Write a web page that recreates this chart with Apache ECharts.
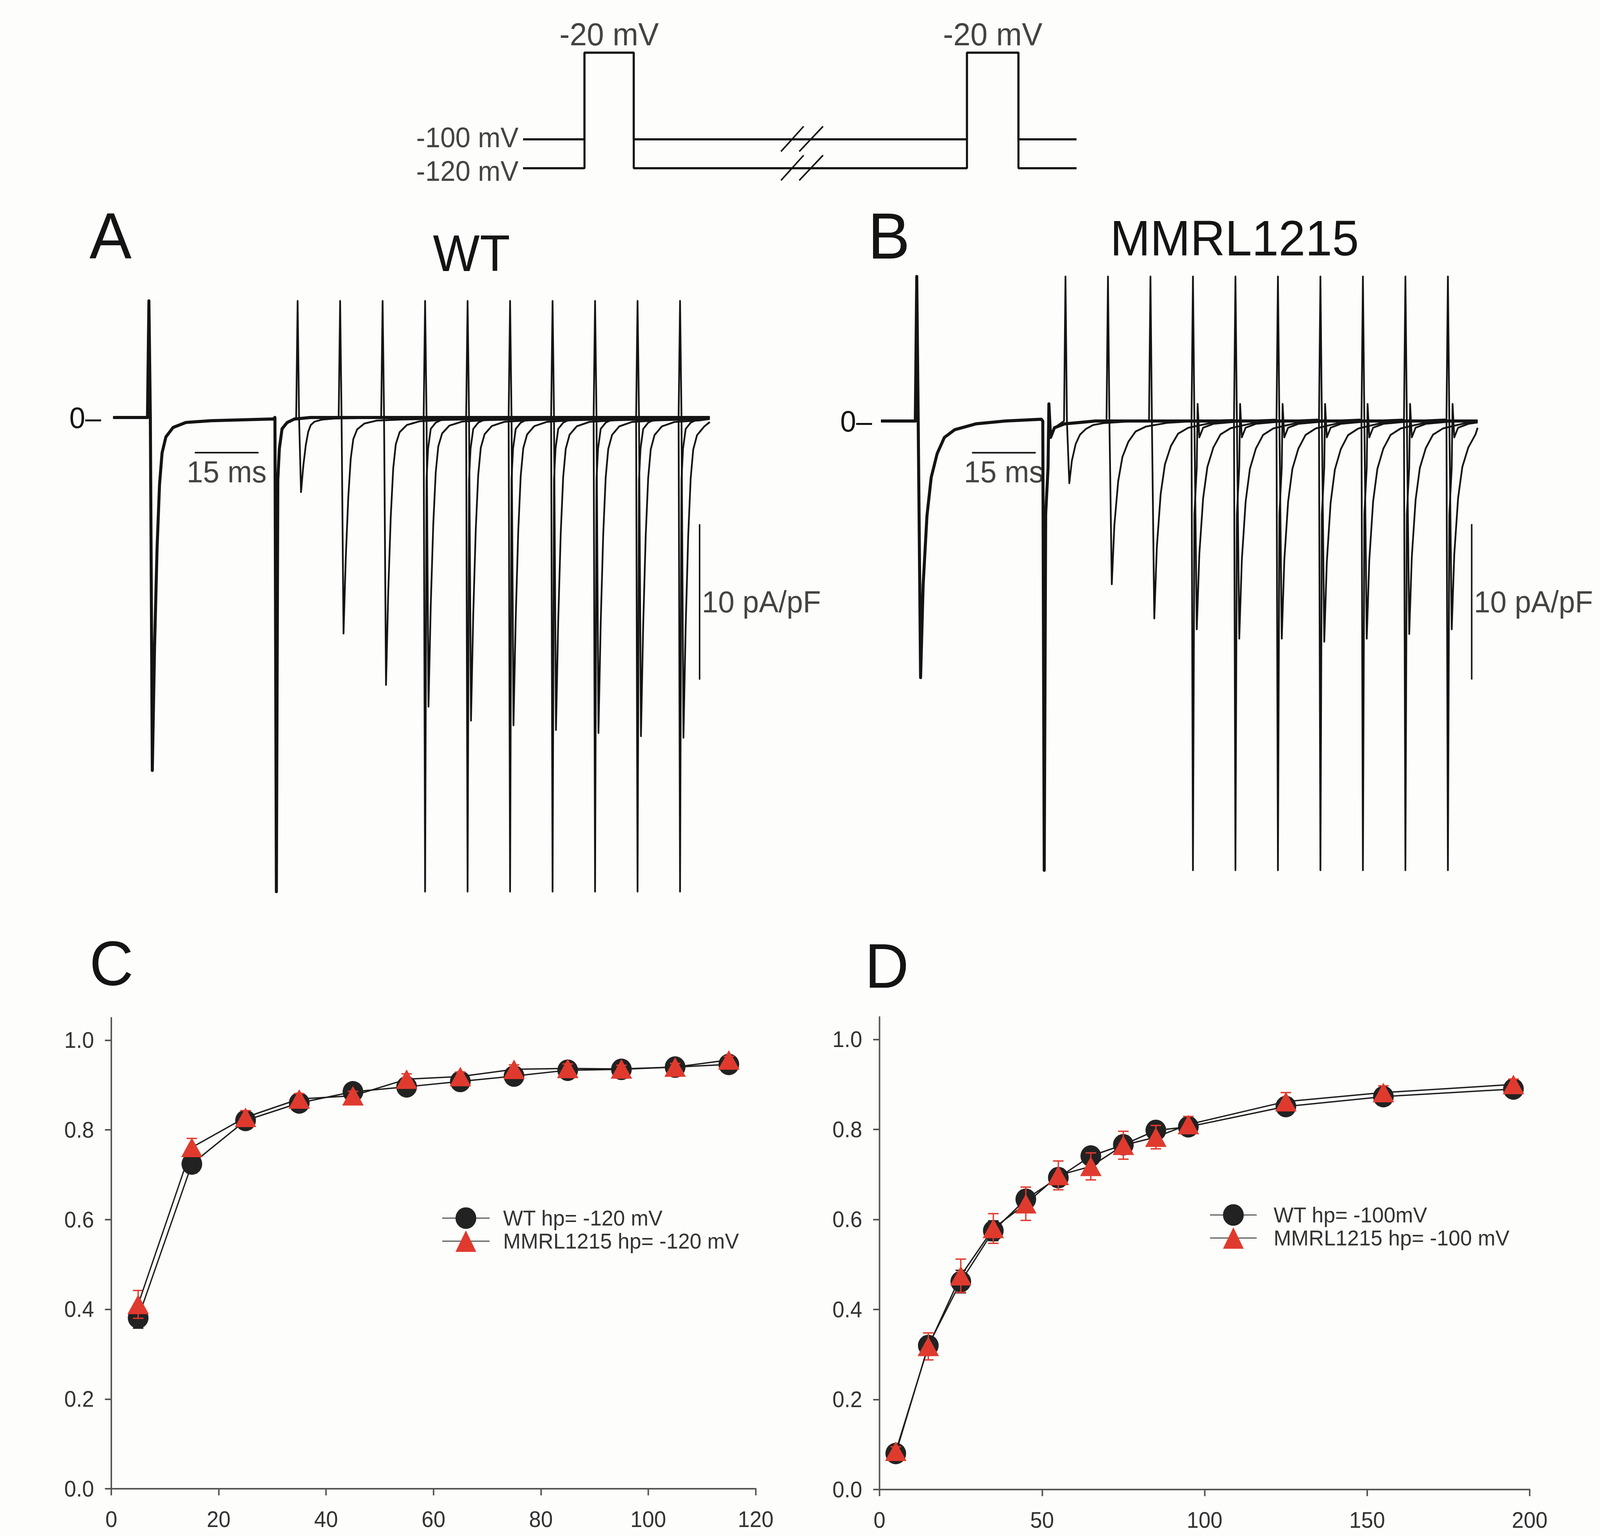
<!DOCTYPE html>
<html><head><meta charset="utf-8">
<script src="https://cdn.jsdelivr.net/npm/echarts@6/dist/echarts.min.js"></script>
<style>html,body{margin:0;padding:0;background:#fdfdfb;overflow:hidden;}#chart{width:4255px;height:3933px;transform-origin:0 0;}</style>
</head><body><div id="chart"></div>
<script>
// ================= DATA =================
// --- voltage protocol (schematic, not to scale) ---
const protocolHolding = [-100, -120];          // mV holding potentials
const protocolTestMV = -20;                    // mV step
const protocolPulseStart = [11.1, 80.2];       // schematic time units
const protocolPulseEnd = [20.0, 89.5];
const protocolEnd = 100;
const protocolBreakAt = 50;
const protocolRow = {'-120': 0, '-100': 1, '-20': 4};   // schematic drawing rows

// --- current traces (ms, pA/pF) ---
const recoveryIntervals = [5, 15, 25, 35, 45, 55, 65, 75, 85, 95];   // ms
const condDuration = 30;
const testDuration = 30;
const traceStart = -8.4;
const traceEnd = 132;
const condPeakWT = -22.7;
const condPeakMM = -16.5;
const testPeakWT = [-4.8, -13.9, -17.2, -18.6, -19.5, -19.8, -20.1, -20.3, -20.5, -20.6];
const testPeakMM = [-4.0, -10.5, -12.7, -13.4, -14.0, -14.0, -14.2, -14.0, -13.7, -13.4];
const capOnWT = 7.5,  capOffWT = -30.5;   // clipped capacitive transients
const capOnMM = 9.3,  capOffMM = -28.9;
// sodium current waveform: [ms after step, fraction of peak]
const naShapeWT = [[0.8,1],[1.33,0.65],[1.92,0.37],[2.5,0.19],[3.1,0.10],[4.0,0.055],[5.7,0.028],[8.7,0.014],[14.6,0.009],[29.3,0.004]];
const naShapeMM = [[0.9,1],[1.5,0.64],[2.4,0.37],[3.4,0.22],[4.8,0.127],[6.5,0.064],[8.9,0.034],[13.9,0.011],[20.8,0.0],[29.3,-0.007]];
// tail after stepping back to holding: [ms after step, pA/pF]
const tailWT = [[0.7,-2.0],[1.33,-0.73],[2.5,-0.33],[4.2,-0.1],[8,0]];
const tailMM = [[0.9,-3.0],[1.1,1.1],[1.5,-1.05],[2.4,-0.43],[4.8,-0.18],[8.1,-0.1],[12,0]];
const scaleTime = 15;      // ms
const scaleCurrent = 10;   // pA/pF

// --- panel C (hp = -120 mV) ---
const cTimes = [5, 15, 25, 35, 45, 55, 65, 75, 85, 95, 105, 115];
const cWT    = [0.381, 0.724, 0.821, 0.860, 0.885, 0.896, 0.908, 0.920, 0.933, 0.935, 0.940, 0.946];
const cWTerr = [0.023, 0.020, 0.012, 0.010, 0.010, 0.010, 0.010, 0.010, 0.008, 0.008, 0.008, 0.008];
const cMM    = [0.411, 0.761, 0.828, 0.869, 0.876, 0.913, 0.919, 0.935, 0.937, 0.936, 0.940, 0.956];
const cMMerr = [0.031, 0.020, 0.015, 0.012, 0.010, 0.012, 0.010, 0.010, 0.010, 0.008, 0.008, 0.008];

// --- panel D (hp = -100 mV) ---
const dTimes = [5, 15, 25, 35, 45, 55, 65, 75, 85, 95, 125, 155, 195];
const dWT    = [0.080, 0.320, 0.462, 0.575, 0.645, 0.693, 0.741, 0.766, 0.798, 0.806, 0.851, 0.873, 0.890];
const dWTerr = [0.010, 0.020, 0.025, 0.022, 0.020, 0.020, 0.018, 0.020, 0.015, 0.015, 0.015, 0.012, 0.012];
const dMM    = [0.085, 0.318, 0.475, 0.580, 0.635, 0.698, 0.718, 0.765, 0.783, 0.811, 0.862, 0.882, 0.900];
const dMMerr = [0.010, 0.030, 0.037, 0.033, 0.037, 0.032, 0.030, 0.031, 0.026, 0.018, 0.020, 0.015, 0.012];

const yTicks = [0, 0.2, 0.4, 0.6, 0.8, 1.0];

// ================= BUILD =================
const FONT = "'Liberation Sans', Arial, Helvetica, sans-serif";
const INK = '#141414';
const RED = '#e03a2e';
const SPIKE = 0.34;   // half-width of a drawn capacitive spike (ms)

function onStep(t0, up, peak, shape) {
  const pts = [[t0 - SPIKE, 0], [t0, up], [t0 + SPIKE, 0]];
  shape.forEach(([dt, f]) => pts.push([t0 + dt, peak * f]));
  return pts;
}
function offStep(t1, down, tail) {
  const pts = [[t1 - SPIKE, 0], [t1, down], [t1 + SPIKE, tail[0][1] * 2]];
  tail.forEach(([dt, v]) => pts.push([t1 + dt, v]));
  return pts;
}
function join(segs) {
  const out = [];
  segs.forEach((s, i) => {
    const next = i + 1 < segs.length ? segs[i + 1][0][0] : traceEnd;
    s.forEach(p => { if (p[0] < next && p[0] <= traceEnd) out.push(p); });
  });
  const last = out[out.length - 1];
  if (last[0] < traceEnd) out.push([traceEnd, last[1] * 0.5]);
  return out;
}
function sweepData(k, P) {
  const segs = [[[traceStart, 0]], onStep(0, P.up, P.condPeak, P.shape), offStep(condDuration, P.down, P.tail)];
  if (k >= 0) {
    const on = condDuration + recoveryIntervals[k];
    segs.push(onStep(on, P.up, P.peaks[k], P.shape));
    if (on + testDuration < traceEnd) segs.push(offStep(on + testDuration, P.down, P.tail));
  }
  return join(segs);
}

const PWT = {up: capOnWT, down: capOffWT, condPeak: condPeakWT, peaks: testPeakWT, shape: naShapeWT, tail: tailWT};
const PMM = {up: capOnMM, down: capOffMM, condPeak: condPeakMM, peaks: testPeakMM, shape: naShapeMM, tail: tailMM};

const series = [];
// ---- protocol ----
const row = mv => protocolRow[String(mv)];
protocolHolding.forEach(h => {
  const d = [[0, row(h)]];
  protocolPulseStart.forEach((s, i) => {
    d.push([s, row(h)], [s, row(protocolTestMV)], [protocolPulseEnd[i], row(protocolTestMV)], [protocolPulseEnd[i], row(h)]);
  });
  d.push([protocolEnd, row(h)]);
  series.push({type: 'line', xAxisIndex: 0, yAxisIndex: 0, data: d, symbol: 'none', lineStyle: {color: INK, width: 5.5}, silent: true});
  // break marks
  [[-3.4, 0.7], [-0.1, 4.2]].forEach(([a, b]) => {
    series.push({type: 'line', xAxisIndex: 0, yAxisIndex: 0, symbol: 'none', silent: true,
      data: [[protocolBreakAt + a, row(h) - 0.42], [protocolBreakAt + b, row(h) + 0.45]],
      lineStyle: {color: INK, width: 4}});
  });
});
// protocol labels
series.push({type: 'scatter', xAxisIndex: 0, yAxisIndex: 0, symbolSize: 0, silent: true,
  data: protocolPulseStart.map((s, i) => [(s + protocolPulseEnd[i]) / 2, row(protocolTestMV)]),
  label: {show: true, position: 'top', distance: 6, formatter: protocolTestMV + ' mV', fontSize: 82, color: INK, fontFamily: FONT}});
series.push({type: 'scatter', xAxisIndex: 0, yAxisIndex: 0, symbolSize: 0, silent: true,
  data: protocolHolding.map((h, i) => ({value: [0, row(h)], label: {formatter: h + ' mV', offset: [0, i === 0 ? -5 : 7]}})),
  label: {show: true, position: 'left', distance: 12, fontSize: 72, lineHeight: 66, color: INK, fontFamily: FONT}});

// ---- traces ----
function traceSeries(ax, P, hbar, vbar) {
  series.push({type: 'line', xAxisIndex: ax, yAxisIndex: ax, data: sweepData(-1, P), symbol: 'none', silent: true,
    lineStyle: {color: INK, width: 8, join: 'round'}, z: 2});
  recoveryIntervals.forEach((_, k) => {
    series.push({type: 'line', xAxisIndex: ax, yAxisIndex: ax, data: sweepData(k, P), symbol: 'none', silent: true,
      lineStyle: {color: INK, width: 4.6, join: 'round'}, z: 3});
  });
  // scale bars
  series.push({type: 'line', xAxisIndex: ax, yAxisIndex: ax, symbol: 'none', silent: true,
    data: [[hbar[0], hbar[1]], [hbar[0] + scaleTime, hbar[1]]], lineStyle: {color: INK, width: 4}});
  series.push({type: 'line', xAxisIndex: ax, yAxisIndex: ax, symbol: 'none', silent: true,
    data: [[vbar[0], vbar[1]], [vbar[0], vbar[1] - scaleCurrent]], lineStyle: {color: INK, width: 4}});
  series.push({type: 'scatter', xAxisIndex: ax, yAxisIndex: ax, symbolSize: 0, silent: true,
    data: [{value: [hbar[0] + scaleTime / 2, hbar[1]], label: {position: 'bottom', distance: 10, formatter: scaleTime + ' ms'}},
           {value: [vbar[0], vbar[1] - scaleCurrent / 2], label: {position: 'right', distance: 6, formatter: scaleCurrent + ' pA/pF'}}],
    label: {show: true, fontSize: 78, color: INK, fontFamily: FONT}});
}
traceSeries(1, PWT, [10.8, -2.26], [129.6, -6.86]);
traceSeries(2, PMM, [13.0, -2.04], [130.6, -6.63]);

// ---- recovery curves ----
function errSeries(ax, xs, ys, es, color, z) {
  return {type: 'custom', xAxisIndex: ax, yAxisIndex: ax, z, silent: true,
    data: xs.map((x, i) => [x, ys[i] - es[i], ys[i] + es[i]]),
    encode: {x: 0, y: [1, 2]},
    renderItem(params, api) {
      const x = api.value(0);
      const lo = api.coord([x, api.value(1)]), hi = api.coord([x, api.value(2)]);
      const hw = 14, st = {stroke: color, lineWidth: 3.5};
      return {type: 'group', children: [
        {type: 'line', shape: {x1: lo[0], y1: lo[1], x2: hi[0], y2: hi[1]}, style: st},
        {type: 'line', shape: {x1: lo[0] - hw, y1: lo[1], x2: lo[0] + hw, y2: lo[1]}, style: st},
        {type: 'line', shape: {x1: hi[0] - hw, y1: hi[1], x2: hi[0] + hw, y2: hi[1]}, style: st}
      ]};
    }};
}
function curve(ax, name, xs, ys, sym, color, z) {
  return {type: 'line', name, xAxisIndex: ax, yAxisIndex: ax, z, silent: true,
    data: xs.map((x, i) => [x, ys[i]]), symbol: sym,
    symbolSize: sym === 'triangle' ? [57, 50] : 55,
    itemStyle: {color, opacity: 1}, lineStyle: {color: '#1e1e1e', width: 3.5}};
}
series.push(errSeries(3, cTimes, cWT, cWTerr, '#222', 3));
series.push(curve(3, 'WT hp= -120 mV', cTimes, cWT, 'circle', '#222', 4));
series.push(errSeries(3, cTimes, cMM, cMMerr, RED, 5));
series.push(curve(3, 'MMRL1215 hp= -120 mV', cTimes, cMM, 'triangle', RED, 6));
series.push(errSeries(4, dTimes, dWT, dWTerr, '#222', 3));
series.push(curve(4, 'WT hp= -100mV', dTimes, dWT, 'circle', '#222', 4));
series.push(errSeries(4, dTimes, dMM, dMMerr, RED, 5));
series.push(curve(4, 'MMRL1215 hp= -100 mV', dTimes, dMM, 'triangle', RED, 6));

// ================= AXES / LAYOUT =================
const hidden = {show: false};
const traceY = (idx) => ({gridIndex: idx, type: 'value', min: -31, max: 9.5,
  axisLine: hidden, axisTick: hidden, splitLine: hidden,
  axisLabel: {customValues: [0], formatter: () => '0\u2013', fontSize: 76, color: INK, fontFamily: FONT, margin: idx === 1 ? 14 : 6}});
const curveX = (idx, max, interval) => ({gridIndex: idx, type: 'value', min: 0, max, interval,
  axisLine: {onZero: false, lineStyle: {color: '#555', width: 4}},
  axisTick: {show: true, length: 17, lineStyle: {color: '#555', width: 4}},
  splitLine: hidden,
  axisLabel: {fontSize: 57, color: '#333', fontFamily: FONT, margin: 50, showMaxLabel: true, showMinLabel: true, hideOverlap: false}});
const curveY = (idx) => ({gridIndex: idx, type: 'value', min: 0, max: 1.05, interval: 0.2,
  axisLine: {onZero: false, lineStyle: {color: '#555', width: 4}},
  axisTick: {show: true, length: 17, customValues: yTicks, lineStyle: {color: '#555', width: 4}},
  splitLine: hidden,
  axisLabel: {customValues: yTicks, formatter: v => v.toFixed(1), fontSize: 57, color: '#333', fontFamily: FONT, margin: 46}});

const option = {
  backgroundColor: '#fdfdfb',
  animation: false,
  textStyle: {fontFamily: FONT},
  grid: [
    {left: 1391, top: 120, width: 1472, height: 355.2},
    {left: 283, top: 691, width: 1638.5, height: 1611.9},
    {left: 2325, top: 700, width: 1638.5, height: 1611.9},
    {left: 296, top: 2606, width: 1713.6, height: 1206},
    {left: 2339, top: 2604, width: 1729, height: 1210}
  ],
  xAxis: [
    {gridIndex: 0, type: 'value', min: 0, max: 100, show: false},
    {gridIndex: 1, type: 'value', min: -10, max: 135, show: false},
    {gridIndex: 2, type: 'value', min: -10, max: 135, show: false},
    curveX(3, 120, 20),
    curveX(4, 200, 50)
  ],
  yAxis: [
    {gridIndex: 0, type: 'value', min: -0.6, max: 4.2, show: false},
    traceY(1),
    traceY(2),
    curveY(3),
    curveY(4)
  ],
  legend: [
    {data: ['WT hp= -120 mV', 'MMRL1215 hp= -120 mV'], orient: 'vertical', left: 1170, top: 3086,
     itemWidth: 126, itemHeight: 69, itemGap: 3, selectedMode: false,
     textStyle: {fontSize: 56, color: '#333', fontFamily: FONT, padding: [0, 0, 0, 31]}},
    {data: ['WT hp= -100mV', 'MMRL1215 hp= -100 mV'], orient: 'vertical', left: 3212, top: 3078,
     itemWidth: 124, itemHeight: 69, itemGap: 3, selectedMode: false,
     textStyle: {fontSize: 56, color: '#333', fontFamily: FONT, padding: [0, 0, 0, 40]}}
  ],
  graphic: [
    {type: 'text', left: 238, top: 520, style: {text: 'A', fontSize: 168, fill: INK, fontFamily: FONT}},
    {type: 'text', left: 2308, top: 520, style: {text: 'B', fontSize: 168, fill: INK, fontFamily: FONT}},
    {type: 'text', left: 238, top: 2385, style: {text: 'C', fontSize: 162, fill: INK, fontFamily: FONT}},
    {type: 'text', left: 2300, top: 2392, style: {text: 'D', fontSize: 162, fill: INK, fontFamily: FONT}},
    {type: 'text', x: 1254, y: 648, style: {text: 'WT', fontSize: 132, fill: INK, fontFamily: FONT, align: 'center', verticalAlign: 'middle'}},
    {type: 'text', x: 3283, y: 610, style: {text: 'MMRL1215', fontSize: 128, fill: INK, fontFamily: FONT, align: 'center', verticalAlign: 'middle'}}
  ],
  series
};
const el = document.getElementById('chart');
const chart = echarts.init(el, null, {renderer: 'svg', width: 4255, height: 3933});
chart.setOption(option);
// fit the full 4255x3933 figure into the visible viewport if it is smaller
const vw = Math.min(window.innerWidth || 4255, document.documentElement.clientWidth || 4255);
const vh = Math.min(window.innerHeight || 3933, document.documentElement.clientHeight || 3933);
const sx = vw < 4255 ? vw / 4255 : 1, sy = vh < 3933 ? vh / 3933 : 1;
if (sx < 1 || sy < 1) el.style.transform = 'scale(' + sx + ',' + sy + ')';
</script></body></html>
